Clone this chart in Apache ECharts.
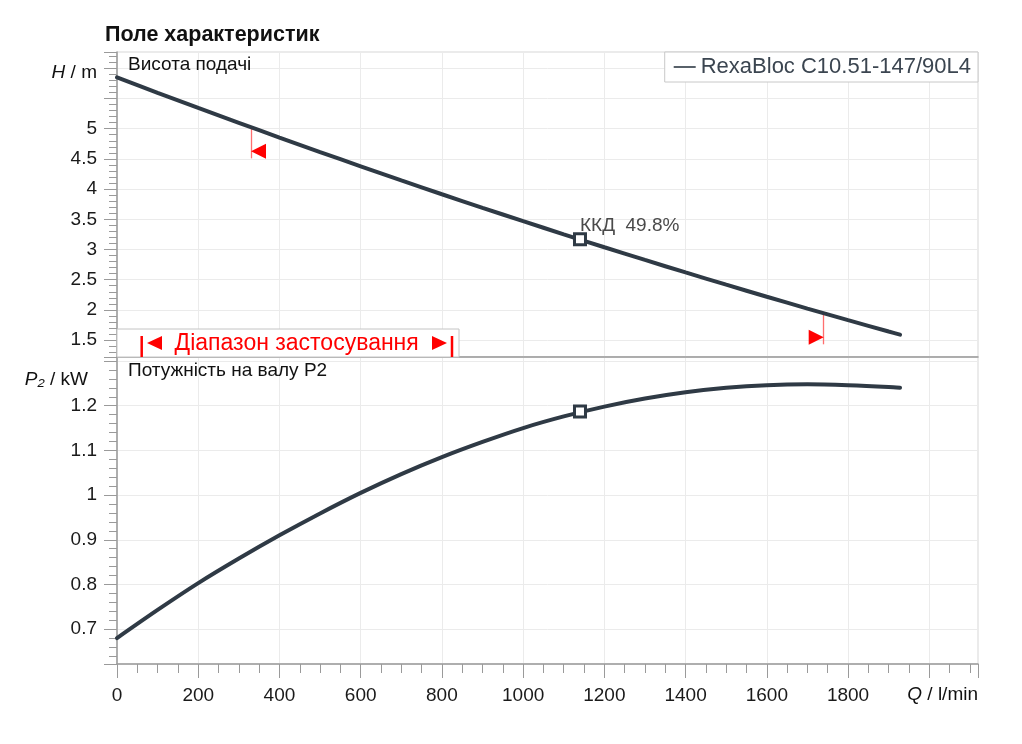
<!DOCTYPE html>
<html lang="uk">
<head>
<meta charset="utf-8">
<title>Поле характеристик</title>
<script src="https://cdn.jsdelivr.net/npm/echarts@6.0.0/dist/echarts.min.js"></script>
<style>
  html, body { margin: 0; padding: 0; background: #fff; }
  #main { width: 1022px; height: 744px; }
</style>
</head>
<body>
<div id="main"></div>
<script>
// flow rate Q, l/min
var flowQ = [0, 100, 200, 300, 400, 500, 600, 700, 800, 900, 1000, 1100, 1200, 1300, 1400, 1500, 1600, 1700, 1800, 1900, 1928];
// head H, m
var headH = [5.850, 5.595, 5.344, 5.097, 4.853, 4.613, 4.377, 4.144, 3.915, 3.690, 3.469, 3.251, 3.037, 2.827, 2.620, 2.417, 2.218, 2.022, 1.830, 1.642, 1.590];
// shaft power P2, kW
var powerP2 = [0.680, 0.743, 0.803, 0.858, 0.910, 0.959, 1.005, 1.047, 1.085, 1.119, 1.150, 1.176, 1.198, 1.216, 1.230, 1.240, 1.246, 1.248, 1.246, 1.242, 1.240];

// duty point
var dutyQ = 1140;
var dutyH = 3.17;
var dutyP2 = 1.187;
var dutyEff = 49.8;

// application range limits (Q)
var rangeQ = [330, 1740];

var qTicks = [0, 200, 400, 600, 800, 1000, 1200, 1400, 1600, 1800];
var hTicks = [1.5, 2, 2.5, 3, 3.5, 4, 4.5, 5];
var pTicks = [0.7, 0.8, 0.9, 1, 1.1, 1.2];

var pumpName = 'RexaBloc C10.51-147/90L4';

var FONT = '"Liberation Sans", Arial, sans-serif';
var LINE = '#2f3a45';
var AXIS = '#9a9a9a';
var GRID = '#ebebeb';
var RED = '#ff0000';
var PINK = '#ff6f6f';

function pairs(xs, ys) {
    return xs.map(function (x, i) { return [x, ys[i]]; });
}
// height of the head curve at q, between read points
function headAt(q) {
    for (var i = 1; i < flowQ.length; i++) {
        if (q <= flowQ[i]) {
            var t = (q - flowQ[i - 1]) / (flowQ[i] - flowQ[i - 1]);
            return headH[i - 1] + t * (headH[i] - headH[i - 1]);
        }
    }
    return headH[headH.length - 1];
}
function tickFmt(list) {
    return function (v) {
        var hit = list.some(function (t) { return Math.abs(t - v) < 1e-6; });
        return hit ? String(+v.toFixed(2)) : '';
    };
}
function label(txt, x, y, size, opts) {
    opts = opts || {};
    return {
        type: 'text', z: 20, silent: true,
        style: {
            text: txt, x: x, y: y,
            font: (opts.weight ? opts.weight + ' ' : '') + size + 'px ' + FONT,
            fill: opts.fill || '#111',
            align: opts.align || 'left', textAlign: opts.align || 'left',
            verticalAlign: 'middle', textVerticalAlign: 'middle',
            rich: opts.rich
        }
    };
}
var italic = function (size) { return { i: { fontStyle: 'italic', fontSize: size, fontFamily: FONT, fill: '#111' } }; };

var dropH = 0.515;   // red range marker length below the curve
var rangeLines = rangeQ.map(function (q) {
    var h = headAt(q);
    return [
        { coord: [q, h], lineStyle: { color: PINK, width: 1.3 } },
        { coord: [q, h - dropH] }
    ];
});
var rangeArrows = [
    { coord: [rangeQ[0], headAt(rangeQ[0]) - dropH], symbol: 'path://M10,0L0,5L10,10Z', symbolOffset: [7.5, -7] },
    { coord: [rangeQ[1], headAt(rangeQ[1]) - dropH], symbol: 'path://M0,0L10,5L0,10Z', symbolOffset: [-7.5, -7] }
];

var chart = echarts.init(document.getElementById('main'));

var option = {
    animation: false,
    backgroundColor: '#fff',
    textStyle: { fontFamily: FONT },
    legend: {
        data: [pumpName],
        right: 44, top: 52,
        padding: [4, 7, 4, 9],
        icon: 'rect', itemWidth: 22, itemHeight: 1.6,
        borderColor: '#c8c8c8', borderWidth: 1, borderRadius: 0,
        backgroundColor: '#fff',
        selectedMode: false,
        textStyle: { fontFamily: FONT, fontSize: 22, color: '#3b4550' }
    },
    grid: [
        { left: 117, right: 44, top: 52, height: 305, show: true, borderColor: '#d6d6d6', borderWidth: 1, outerBoundsMode: 'none' },
        { left: 117, right: 44, top: 357, height: 307, show: true, borderColor: '#d6d6d6', borderWidth: 1, outerBoundsMode: 'none' }
    ],
    xAxis: [
        {
            gridIndex: 0, type: 'value', min: 0, max: 2120, interval: 200,
            axisLine: { show: true, onZero: false, lineStyle: { color: AXIS, width: 1.5 } },
            axisTick: { show: false },
            axisLabel: { show: false },
            splitLine: { show: true, lineStyle: { color: GRID, width: 1 } }
        },
        {
            gridIndex: 1, type: 'value', min: 0, max: 2120, interval: 200,
            axisLine: { show: true, onZero: false, lineStyle: { color: AXIS, width: 1.5 } },
            axisTick: { show: true, length: 14, lineStyle: { color: AXIS, width: 1 } },
            minorTick: { show: true, splitNumber: 4, length: 9, lineStyle: { color: AXIS, width: 1 } },
            axisLabel: { margin: 22, fontSize: 19, color: '#1a1a1a', fontFamily: FONT, formatter: tickFmt(qTicks) },
            splitLine: { show: true, lineStyle: { color: GRID, width: 1 } }
        }
    ],
    yAxis: [
        {
            gridIndex: 0, type: 'value', min: 1.22, max: 6.27, splitNumber: 10,
            axisLine: { show: true, onZero: false, lineStyle: { color: AXIS, width: 1.5 } },
            axisTick: { show: true, length: 13, lineStyle: { color: AXIS, width: 1 } },
            minorTick: { show: true, splitNumber: 5, length: 8, lineStyle: { color: AXIS, width: 1 } },
            axisLabel: { margin: 20, fontSize: 19, color: '#1a1a1a', fontFamily: FONT, formatter: tickFmt(hTicks) },
            splitLine: { show: true, lineStyle: { color: GRID, width: 1 } }
        },
        {
            gridIndex: 1, type: 'value', min: 0.622, max: 1.309, splitNumber: 7,
            axisLine: { show: true, onZero: false, lineStyle: { color: AXIS, width: 1.5 } },
            axisTick: { show: true, length: 13, lineStyle: { color: AXIS, width: 1 } },
            minorTick: { show: true, splitNumber: 5, length: 8, lineStyle: { color: AXIS, width: 1 } },
            axisLabel: { margin: 20, fontSize: 19, color: '#1a1a1a', fontFamily: FONT, formatter: tickFmt(pTicks) },
            splitLine: { show: true, lineStyle: { color: GRID, width: 1 } }
        }
    ],
    series: [
        {
            name: pumpName, type: 'line', xAxisIndex: 0, yAxisIndex: 0,
            data: pairs(flowQ, headH), smooth: 0.3, showSymbol: false, symbol: 'none',
            itemStyle: { color: LINE },
            lineStyle: { color: LINE, width: 4, cap: 'round' },
            z: 3,
            markLine: {
                silent: true, symbol: ['none', 'none'], label: { show: false },
                itemStyle: { color: PINK },
                lineStyle: { color: PINK, width: 1.3, type: 'solid', opacity: 1 },
                emphasis: { disabled: true },
                z: 2,
                data: rangeLines
            },
            markPoint: {
                silent: true, symbolSize: [15, 15], symbolKeepAspect: false,
                itemStyle: { color: RED }, label: { show: false },
                data: rangeArrows
            }
        },
        {
            name: pumpName, type: 'line', xAxisIndex: 1, yAxisIndex: 1,
            data: pairs(flowQ, powerP2), smooth: 0.3, showSymbol: false, symbol: 'none',
            itemStyle: { color: LINE },
            lineStyle: { color: LINE, width: 4, cap: 'round' },
            z: 3
        },
        {
            name: 'duty-h', type: 'scatter', xAxisIndex: 0, yAxisIndex: 0,
            data: [[dutyQ, dutyH]], symbol: 'rect', symbolSize: 11, z: 5,
            itemStyle: { color: '#ffffff', borderColor: LINE, borderWidth: 3, opacity: 1 },
            label: {
                show: true, formatter: 'ККД  ' + dutyEff + '%',
                position: [7, 3], align: 'left', verticalAlign: 'bottom',
                fontFamily: FONT, fontSize: 19, color: '#4a4a4a'
            }
        },
        {
            name: 'duty-p', type: 'scatter', xAxisIndex: 1, yAxisIndex: 1,
            data: [[dutyQ, dutyP2]], symbol: 'rect', symbolSize: 11, z: 5,
            itemStyle: { color: '#ffffff', borderColor: LINE, borderWidth: 3, opacity: 1 }
        }
    ],
    graphic: [
        label('Поле характеристик', 105, 35, 21.5, { weight: 'bold' }),
        label('Висота подачі', 128, 65, 19),
        label('Потужність на валу P2', 128, 371, 19),
        label('{i|H} / m', 97, 73, 19, { align: 'right', rich: italic(19) }),
        label('{i|P₂} / kW', 88, 380, 19, { align: 'right', rich: italic(19) }),
        label('{i|Q} / l/min', 978, 695, 19, { align: 'right', rich: italic(19) }),
        {
            type: 'rect', z: 10, silent: true, shape: { x: 117, y: 329, width: 342, height: 28 },
            style: { fill: '#fff', stroke: '#c4c4c4', lineWidth: 1 }
        },
        { type: 'line', z: 11, silent: true, shape: { x1: 141.7, y1: 336, x2: 141.7, y2: 357 }, style: { stroke: RED, lineWidth: 2.5 } },
        { type: 'line', z: 11, silent: true, shape: { x1: 452, y1: 336, x2: 452, y2: 357 }, style: { stroke: RED, lineWidth: 2.5 } },
        { type: 'polygon', z: 11, silent: true, shape: { points: [[147, 343], [162, 336], [162, 350]] }, style: { fill: RED } },
        { type: 'polygon', z: 11, silent: true, shape: { points: [[447, 343], [432, 336], [432, 350]] }, style: { fill: RED } },
        label('Діапазон застосування', 296.7, 344, 23, { align: 'center', fill: RED })
    ]
};

chart.setOption(option);
</script>
</body>
</html>
